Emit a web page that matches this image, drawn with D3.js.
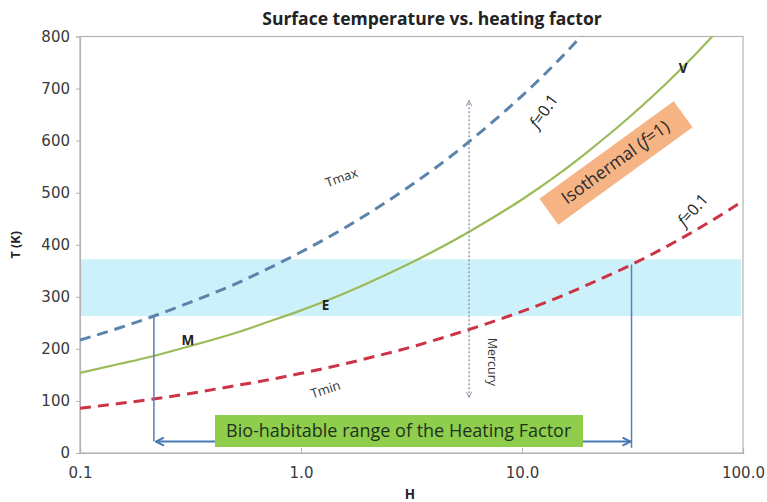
<!DOCTYPE html>
<html>
<head>
<meta charset="utf-8">
<script src="https://cdn.jsdelivr.net/npm/d3@7"></script>
<style>
  body { margin: 0; background: #fff; }
  svg text { font-family: "Open Sans", "DejaVu Sans", sans-serif; }
</style>
</head>
<body>
<div id="chart"></div>
<script>
"use strict";

// heating factor samples (log axis) and read-off temperatures (K)
const heating = [0.1, 0.15, 0.2, 0.3, 0.5, 0.7, 1, 1.5, 2, 3, 5, 7, 10, 15, 20, 30, 50, 70, 100];
const tIsothermal = [154, 171, 183, 203, 230, 251, 274, 303, 326, 361, 410, 446, 487, 539, 580, 642, 729, 793, 867];
const tMaxCurve = [217, 240, 258, 286, 324, 353, 386, 427, 459, 508, 577, 628, 686, 759, 816, 903, 1026, 1116, 1220];
const tMinCurve = [86, 95, 102, 113, 129, 140, 153, 169, 182, 201, 229, 249, 272, 301, 324, 358, 407, 443, 484];

const xTicks = [0.1, 1, 10, 100];
const yTicks = [0, 100, 200, 300, 400, 500, 600, 700, 800];

const habitableBand = [263, 372];          // T range of the shaded band
const bioRange = [0.216, 31.3];            // H range of the heating factor arrow
const mercuryH = 5.76;
const mercuryT = [107, 677];

const planets = [
  { name: "M", H: 0.308, T: 217 },
  { name: "E", H: 1.29, T: 284 },
  { name: "V", H: 53.6, T: 740 },
];

const width = 767;
const height = 502;
const margin = { top: 36.5, right: 24, bottom: 49, left: 80 };

const svg = d3
  .select("#chart")
  .append("svg")
  .attr("width", width)
  .attr("height", height);

const x = d3.scaleLog().domain([0.1, 100]).range([margin.left, width - margin.right]);
const y = d3.scaleLinear().domain([0, 800]).range([height - margin.bottom, margin.top]);

const defs = svg.append("defs");
defs.append("clipPath")
  .attr("id", "plot-clip")
  .append("rect")
  .attr("x", x(0.1))
  .attr("y", y(800))
  .attr("width", x(100) - x(0.1))
  .attr("height", y(0) - y(800));

const addMarker = (id, color, size, sw) => {
  defs.append("marker")
    .attr("id", id)
    .attr("viewBox", "0 0 10 10")
    .attr("refX", 9)
    .attr("refY", 5)
    .attr("markerWidth", size)
    .attr("markerHeight", size)
    .attr("markerUnits", "userSpaceOnUse")
    .attr("orient", "auto-start-reverse")
    .append("path")
    .attr("d", "M1,1 L9,5 L1,9")
    .attr("fill", "none")
    .attr("stroke", color)
    .attr("stroke-width", sw);
};
addMarker("arrow-blue", "#4a78b5", 10, 2);
addMarker("arrow-grey", "#7d8ea8", 7, 1.3);

///////////////////////////////////
// habitable band
///////////////////////////////////
svg.append("rect")
  .attr("x", x(0.1) + 1)
  .attr("y", y(habitableBand[1]))
  .attr("width", x(100) - x(0.1) - 3)
  .attr("height", y(habitableBand[0]) - y(habitableBand[1]))
  .attr("fill", "#cdf1fa");

///////////////////////////////////
// axes and frame
///////////////////////////////////
svg.append("rect")
  .attr("x", x(0.1))
  .attr("y", y(800))
  .attr("width", x(100) - x(0.1))
  .attr("height", y(0) - y(800))
  .attr("fill", "none")
  .attr("stroke", "#b4b4b4")
  .attr("stroke-width", 1.2);

const yAxis = svg.append("g")
  .attr("transform", `translate(${x(0.1)},0)`)
  .call(d3.axisLeft(y).tickValues(yTicks).tickSize(4).tickPadding(6));
const xAxis = svg.append("g")
  .attr("transform", `translate(0,${y(0)})`)
  .call(d3.axisBottom(x).tickValues(xTicks).tickFormat(d3.format(".1f")).tickSize(-5).tickPadding(14));

[yAxis, xAxis].forEach((g) => {
  g.select(".domain").attr("stroke", "#b4b4b4").attr("stroke-width", 1.2);
  g.selectAll(".tick line").attr("stroke", "#b4b4b4");
  g.selectAll(".tick text")
    .attr("fill", "#3a3a3a")
    .style("font-size", "15px")
    .style("font-family", "'DejaVu Sans', sans-serif");
});

///////////////////////////////////
// curves
///////////////////////////////////
const line = (series) =>
  d3.line()
    .x((d, i) => x(heating[i]))
    .y((d) => y(d))
    .curve(d3.curveMonotoneX)(series);

const plot = svg.append("g").attr("clip-path", "url(#plot-clip)");

plot.append("path")
  .attr("d", line(tIsothermal))
  .attr("fill", "none")
  .attr("stroke", "#9bbb59")
  .attr("stroke-width", 2.2);

plot.append("path")
  .attr("d", line(tMaxCurve))
  .attr("fill", "none")
  .attr("stroke", "#5b84ad")
  .attr("stroke-width", 3)
  .attr("stroke-dasharray", "11,7");

plot.append("path")
  .attr("d", line(tMinCurve))
  .attr("fill", "none")
  .attr("stroke", "#cc3344")
  .attr("stroke-width", 3)
  .attr("stroke-dasharray", "11,7");

///////////////////////////////////
// bio-habitable range markers
///////////////////////////////////
const tAt = (series, h) => {
  // linear interpolation in log(H) between read-off samples, for line ends
  const lx = Math.log10(h);
  for (let i = 1; i < heating.length; i++) {
    if (h <= heating[i]) {
      const a = Math.log10(heating[i - 1]);
      const b = Math.log10(heating[i]);
      const t = (lx - a) / (b - a);
      return series[i - 1] + t * (series[i] - series[i - 1]);
    }
  }
  return series[series.length - 1];
};

svg.append("line")
  .attr("x1", x(bioRange[0]))
  .attr("x2", x(bioRange[0]))
  .attr("y1", y(tAt(tMaxCurve, bioRange[0])))
  .attr("y2", y(22))
  .attr("stroke", "#5a7fb0")
  .attr("stroke-width", 1.5);

svg.append("line")
  .attr("x1", x(bioRange[1]))
  .attr("x2", x(bioRange[1]))
  .attr("y1", y(tAt(tMinCurve, bioRange[1])))
  .attr("y2", y(10))
  .attr("stroke", "#5a7fb0")
  .attr("stroke-width", 1.5);

svg.append("line")
  .attr("x1", x(bioRange[0]) + 2)
  .attr("x2", x(bioRange[1]) - 1)
  .attr("y1", y(22))
  .attr("y2", y(22))
  .attr("stroke", "#4a78b5")
  .attr("stroke-width", 2)
  .attr("marker-start", "url(#arrow-blue)")
  .attr("marker-end", "url(#arrow-blue)");

const bioBox = svg.append("g").attr("transform", `translate(215,415)`);
bioBox.append("rect")
  .attr("width", 368)
  .attr("height", 32)
  .attr("fill", "#8fcd4c");
bioBox.append("text")
  .attr("x", 11)
  .attr("y", 22)
  .attr("fill", "#1d3320")
  .style("font-size", "18px")
  .text("Bio-habitable range of the Heating Factor");

///////////////////////////////////
// Mercury arrow
///////////////////////////////////
svg.append("line")
  .attr("x1", x(mercuryH))
  .attr("x2", x(mercuryH))
  .attr("y1", y(mercuryT[0]))
  .attr("y2", y(mercuryT[1]))
  .attr("stroke", "#7d8ea8")
  .attr("stroke-width", 1.3)
  .attr("stroke-dasharray", "2,2")
  .attr("marker-start", "url(#arrow-grey)")
  .attr("marker-end", "url(#arrow-grey)");

svg.append("text")
  .attr("transform", `translate(${x(mercuryH) + 19},${y(175)}) rotate(90)`)
  .attr("text-anchor", "middle")
  .attr("fill", "#333")
  .style("font-size", "12.5px")
  .text("Mercury");

///////////////////////////////////
// labels
///////////////////////////////////
svg.append("text")
  .attr("x", 432)
  .attr("y", 25)
  .attr("text-anchor", "middle")
  .attr("fill", "#222")
  .style("font-size", "17.5px")
  .style("font-weight", "bold")
  .text("Surface temperature vs. heating factor");

svg.append("text")
  .attr("transform", `translate(20,${(y(0) + y(800)) / 2}) rotate(-90)`)
  .attr("text-anchor", "middle")
  .attr("fill", "#222")
  .style("font-size", "12.5px")
  .style("font-weight", "bold")
  .text("T (K)");

svg.append("text")
  .attr("x", 410)
  .attr("y", 499)
  .attr("text-anchor", "middle")
  .attr("fill", "#222")
  .style("font-size", "13.5px")
  .style("font-weight", "bold")
  .text("H");

svg.selectAll(".planet")
  .data(planets)
  .enter()
  .append("text")
  .attr("class", "planet")
  .attr("x", (d) => x(d.H))
  .attr("y", (d) => y(d.T) + 5)
  .attr("text-anchor", "middle")
  .attr("fill", "#222")
  .style("font-size", "13.5px")
  .style("font-weight", "bold")
  .text((d) => d.name);

const rotLabel = (cx, cy, angle, size, parts, color) => {
  const t = svg.append("text")
    .attr("transform", `translate(${cx},${cy}) rotate(${angle})`)
    .attr("text-anchor", "middle")
    .attr("dominant-baseline", "middle")
    .attr("fill", color)
    .style("font-size", size + "px");
  parts.forEach((p) => {
    t.append("tspan")
      .style("font-style", p.italic ? "italic" : "normal")
      .text(p.text);
  });
  return t;
};

rotLabel(342, 179, -20, 13, [{ text: "Tmax" }], "#333");
rotLabel(326, 391, -18, 13, [{ text: "Tmin" }], "#333");
rotLabel(545, 112, -55, 16, [{ text: "f", italic: true }, { text: "=0.1" }], "#222");
rotLabel(694, 211, -48, 16, [{ text: "f", italic: true }, { text: "=0.1" }], "#222");

const iso = svg.append("g").attr("transform", "translate(616,163) rotate(-36)");
iso.append("rect")
  .attr("x", -83)
  .attr("y", -16)
  .attr("width", 166)
  .attr("height", 32)
  .attr("fill", "#f6b384");
iso.append("text")
  .attr("text-anchor", "middle")
  .attr("dominant-baseline", "middle")
  .attr("fill", "#2a2a2a")
  .style("font-size", "17.5px")
  .call((t) => {
    t.append("tspan").text("Isothermal (");
    t.append("tspan").style("font-style", "italic").text("f");
    t.append("tspan").text("=1)");
  });
</script>
</body>
</html>
